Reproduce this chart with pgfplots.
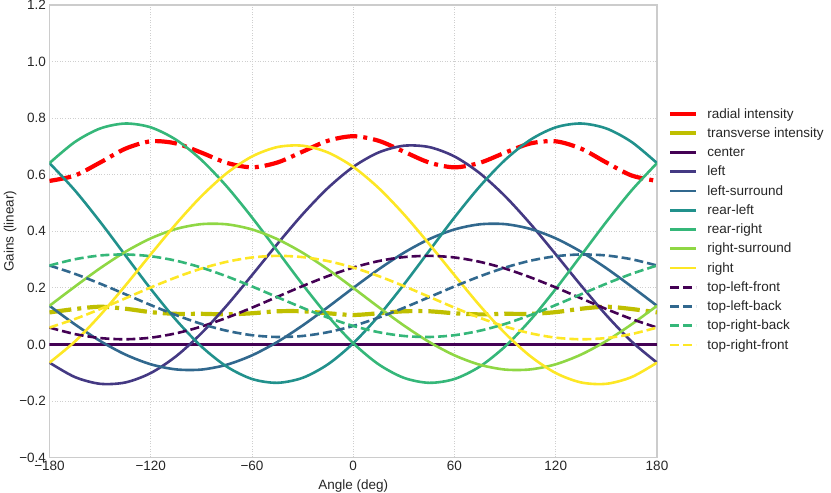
\documentclass[border=0pt]{standalone}
\usepackage{fontspec}
\setmainfont{Liberation Sans}
\usepackage{pgfplots}
\usepackage{pgfplotstable}
\pgfplotsset{compat=1.18}
\definecolor{v0}{HTML}{440154}
\definecolor{v1}{HTML}{443983}
\definecolor{v2}{HTML}{31688E}
\definecolor{v3}{HTML}{21918C}
\definecolor{v4}{HTML}{35B779}
\definecolor{v5}{HTML}{8FD744}
\definecolor{v6}{HTML}{FDE725}
\definecolor{olive}{HTML}{BFBF00}
\definecolor{txt}{HTML}{262626}
\definecolor{frame}{HTML}{CCCCCC}
\definecolor{gridc}{HTML}{CFCFCF}
\pgfplotstableread{
ang rad trans cen left lsur rleft rright rsur right tlf tlb trb trf
-180 0.578 0.113 0 -0.0646 0.1364 0.6410 0.6410 0.1364 -0.0646 0.0594 0.2788 0.2788 0.0594
-165 0.597 0.125 0 -0.1155 0.0710 0.5448 0.7155 0.2041 0.0099 0.0365 0.2494 0.3009 0.0895
-150 0.643 0.133 0 -0.1394 0.0121 0.4334 0.7633 0.2692 0.1030 0.0224 0.2147 0.3143 0.1248
-135 0.692 0.126 0 -0.1346 -0.0361 0.3145 0.7809 0.3275 0.2082 0.0180 0.1771 0.3179 0.1629
-120 0.718 0.114 0 -0.1014 -0.0704 0.1961 0.7674 0.3748 0.3183 0.0237 0.1391 0.3116 0.2012
-105 0.7105 0.108 0 -0.0421 -0.0885 0.0864 0.7235 0.4081 0.4260 0.0391 0.1035 0.2958 0.2370
-90 0.678 0.108 0 0.0392 -0.0891 -0.0073 0.6523 0.4251 0.5238 0.0630 0.0724 0.2716 0.2680
-75 0.642 0.106 0 0.1370 -0.0721 -0.0785 0.5586 0.4245 0.6051 0.0940 0.0482 0.2405 0.2919
-60 0.626 0.110 0 0.2447 -0.0388 -0.1224 0.4489 0.4064 0.6644 0.1298 0.0324 0.2049 0.3073
-45 0.643 0.117 0 0.3548 0.0085 -0.1359 0.3305 0.3721 0.6976 0.1681 0.0261 0.1669 0.3130
-30 0.6815 0.117 0 0.4600 0.0668 -0.1183 0.2116 0.3239 0.7024 0.2062 0.0297 0.1293 0.3086
-15 0.720 0.110 0 0.5531 0.1319 -0.0705 0.1002 0.2650 0.6785 0.2415 0.0431 0.0946 0.2945
0 0.736 0.104 0 0.6276 0.1996 0.0040 0.0040 0.1996 0.6276 0.2716 0.0652 0.0652 0.2716
15 0.720 0.110 0 0.6785 0.2650 0.1002 -0.0705 0.1319 0.5531 0.2945 0.0946 0.0431 0.2415
30 0.6815 0.117 0 0.7024 0.3239 0.2116 -0.1183 0.0668 0.4600 0.3086 0.1293 0.0297 0.2062
45 0.643 0.117 0 0.6976 0.3721 0.3305 -0.1359 0.0085 0.3548 0.3130 0.1669 0.0261 0.1681
60 0.626 0.110 0 0.6644 0.4064 0.4489 -0.1224 -0.0388 0.2447 0.3073 0.2049 0.0324 0.1298
75 0.642 0.106 0 0.6051 0.4245 0.5586 -0.0785 -0.0721 0.1370 0.2919 0.2405 0.0482 0.0940
90 0.678 0.108 0 0.5238 0.4251 0.6523 -0.0073 -0.0891 0.0392 0.2680 0.2716 0.0724 0.0630
105 0.7105 0.108 0 0.4260 0.4081 0.7235 0.0864 -0.0885 -0.0421 0.2370 0.2958 0.1035 0.0391
120 0.718 0.114 0 0.3183 0.3748 0.7674 0.1961 -0.0704 -0.1014 0.2012 0.3116 0.1391 0.0237
135 0.692 0.126 0 0.2082 0.3275 0.7809 0.3145 -0.0361 -0.1346 0.1629 0.3179 0.1771 0.0180
150 0.643 0.133 0 0.1030 0.2692 0.7633 0.4334 0.0121 -0.1394 0.1248 0.3143 0.2147 0.0224
165 0.597 0.125 0 0.0099 0.2041 0.7155 0.5448 0.0710 -0.1155 0.0895 0.3009 0.2494 0.0365
180 0.578 0.113 0 -0.0646 0.1364 0.6410 0.6410 0.1364 -0.0646 0.0594 0.2788 0.2788 0.0594
}\gains
\begin{document}
\begin{tikzpicture}
\begin{axis}[
  scale only axis,
  width=607.5pt, height=452.5pt,
  xmin=-180, xmax=180, ymin=-0.4, ymax=1.2,
  xtick={-180,-120,-60,0,60,120,180},
  xticklabels={−180,−120,−60,0,60,120,180},
  ytick={-0.4,-0.2,0,0.2,0.4,0.6,0.8,1.0,1.2},
  yticklabels={−0.4,−0.2,0.0,0.2,0.4,0.6,0.8,1.0,1.2},
  major tick length=0pt,
  tick label style={font=\fontsize{13.5}{16}\selectfont, text=txt},
  label style={font=\fontsize{13.5}{16}\selectfont, text=txt},
  xlabel={Angle (deg)},
  ylabel={Gains (linear)},
  xlabel style={at={(axis description cs:0.5,-0.064)}, anchor=center},
  ylabel style={at={(axis description cs:-0.065,0.5)}, anchor=center},
  grid=major,
  major grid style={color=gridc, line width=0.8pt, dash pattern=on 1pt off 1.6pt},
  axis line style={draw=frame, line width=1.2pt},
  legend cell align=left,
  legend style={draw=none, fill=none, at={(1,0.5)}, anchor=west,
    xshift=11pt, yshift=1.75pt, inner xsep=0pt, inner ysep=0pt,
    font=\fontsize{13.5}{16}\selectfont, text=txt,
    row sep=4.75pt, column sep=8pt,
    nodes={inner sep=1pt, text height=10.5pt, text depth=2pt}},
  legend image code/.code={\draw[#1] (0pt,0pt) -- (26pt,0pt);},
  every axis plot/.append style={line width=2.6pt},
]
\addplot[smooth, red, line width=4.2pt, dash pattern=on 22pt off 6pt on 4pt off 6pt, legend image post style={solid}] table[x=ang,y=rad]{\gains};
\addlegendentry{radial intensity}
\addplot[smooth, olive, line width=4.2pt, dash pattern=on 22pt off 6pt on 4pt off 6pt, legend image post style={solid}] table[x=ang,y=trans]{\gains};
\addlegendentry{transverse intensity}
\addplot[smooth, v0] table[x=ang,y=cen]{\gains};
\addlegendentry{center}
\addplot[smooth, v1] table[x=ang,y=left]{\gains};
\addlegendentry{left}
\addplot[smooth, v2] table[x=ang,y=lsur]{\gains};
\addlegendentry{left-surround}
\addplot[smooth, v3] table[x=ang,y=rleft]{\gains};
\addlegendentry{rear-left}
\addplot[smooth, v4] table[x=ang,y=rright]{\gains};
\addlegendentry{rear-right}
\addplot[smooth, v5] table[x=ang,y=rsur]{\gains};
\addlegendentry{right-surround}
\addplot[smooth, v6] table[x=ang,y=right]{\gains};
\addlegendentry{right}
\addplot[smooth, v0, dash pattern=on 9pt off 4pt] table[x=ang,y=tlf]{\gains};
\addlegendentry{top-left-front}
\addplot[smooth, v2, dash pattern=on 9pt off 4pt] table[x=ang,y=tlb]{\gains};
\addlegendentry{top-left-back}
\addplot[smooth, v4, dash pattern=on 9pt off 4pt] table[x=ang,y=trb]{\gains};
\addlegendentry{top-right-back}
\addplot[smooth, v6, dash pattern=on 9pt off 4pt] table[x=ang,y=trf]{\gains};
\addlegendentry{top-right-front}
\end{axis}
\pgfresetboundingbox
\path ([shift={(-49.5pt,-35.5pt)}]current axis.south west) rectangle ([shift={(174pt,5pt)}]current axis.north east);
\end{tikzpicture}
\end{document}
